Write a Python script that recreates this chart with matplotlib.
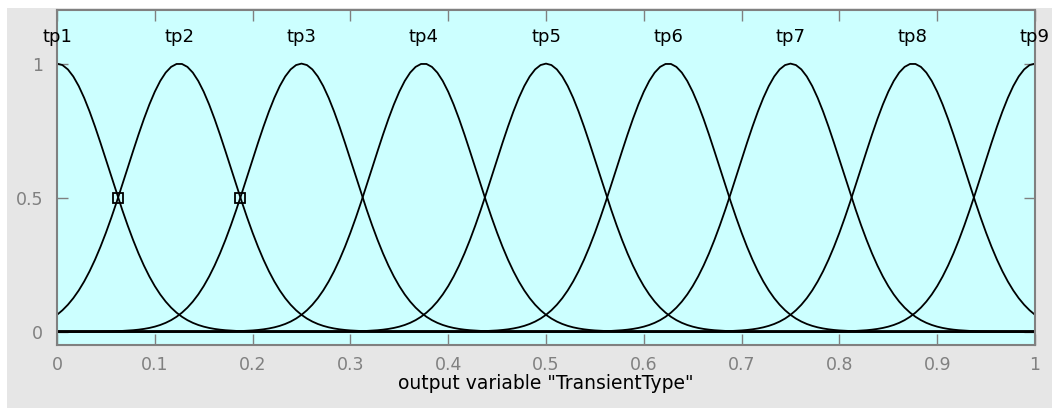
import numpy as np
import matplotlib
matplotlib.use("Agg")
import matplotlib.pyplot as plt
from matplotlib.patches import Rectangle

# Gaussian membership function parameters
mf_names = ["tp1", "tp2", "tp3", "tp4", "tp5", "tp6", "tp7", "tp8", "tp9"]
mf_centers = [0.0, 0.125, 0.25, 0.375, 0.5, 0.625, 0.75, 0.875, 1.0]
mf_sigma = 0.0531
marker_x = [0.0625, 0.1875]
marker_y = [0.5, 0.5]
xticks = [0, 0.1, 0.2, 0.3, 0.4, 0.5, 0.6, 0.7, 0.8, 0.9, 1]
xtick_labels = ["0", "0.1", "0.2", "0.3", "0.4", "0.5", "0.6", "0.7", "0.8", "0.9", "1"]
yticks = [0, 0.5, 1]
ytick_labels = ["0", "0.5", "1"]

W, H = 1052, 408
fig = plt.figure(figsize=(W / 100, H / 100), dpi=100)
fig.patch.set_facecolor("white")
fig.patches.append(Rectangle((7 / W, 0), 1 - 7 / W, (H - 8) / H, transform=fig.transFigure,
                             facecolor="#E6E6E6", edgecolor="none", zorder=-10))

ax = fig.add_axes([57 / W, (H - 345) / H, 978 / W, 335 / H])
ax.set_facecolor("#CCFFFF")
x = np.linspace(0, 1, 181)
for c in mf_centers:
    y = np.exp(-((x - c) ** 2) / (2 * mf_sigma ** 2))
    ax.plot(x, y, color="black", lw=1.3)
ax.plot(marker_x, marker_y, ls="none", marker="s", ms=7, mfc="none", mec="black", mew=1.3)

for name, c in zip(mf_names, mf_centers):
    ax.text(c, 1.1, name, ha="center", va="center", fontsize=13, color="black")

ax.set_xlim(0, 1)
ax.set_ylim(-0.05, 1.2)
ax.set_xticks(xticks)
ax.set_xticklabels(xtick_labels)
ax.set_yticks(yticks)
ax.set_yticklabels(ytick_labels)
ax.tick_params(direction="in", top=True, right=True, colors="#808080", labelsize=12.5,
               length=8, width=1, pad=8)
ax.tick_params(axis="y", pad=10)
for s in ax.spines.values():
    s.set_color("#808080")
    s.set_linewidth(1.5)
ax.set_xlabel('output variable "TransientType"', fontsize=13.5, color="black", labelpad=0)

fig.savefig("out.png", dpi=100)
